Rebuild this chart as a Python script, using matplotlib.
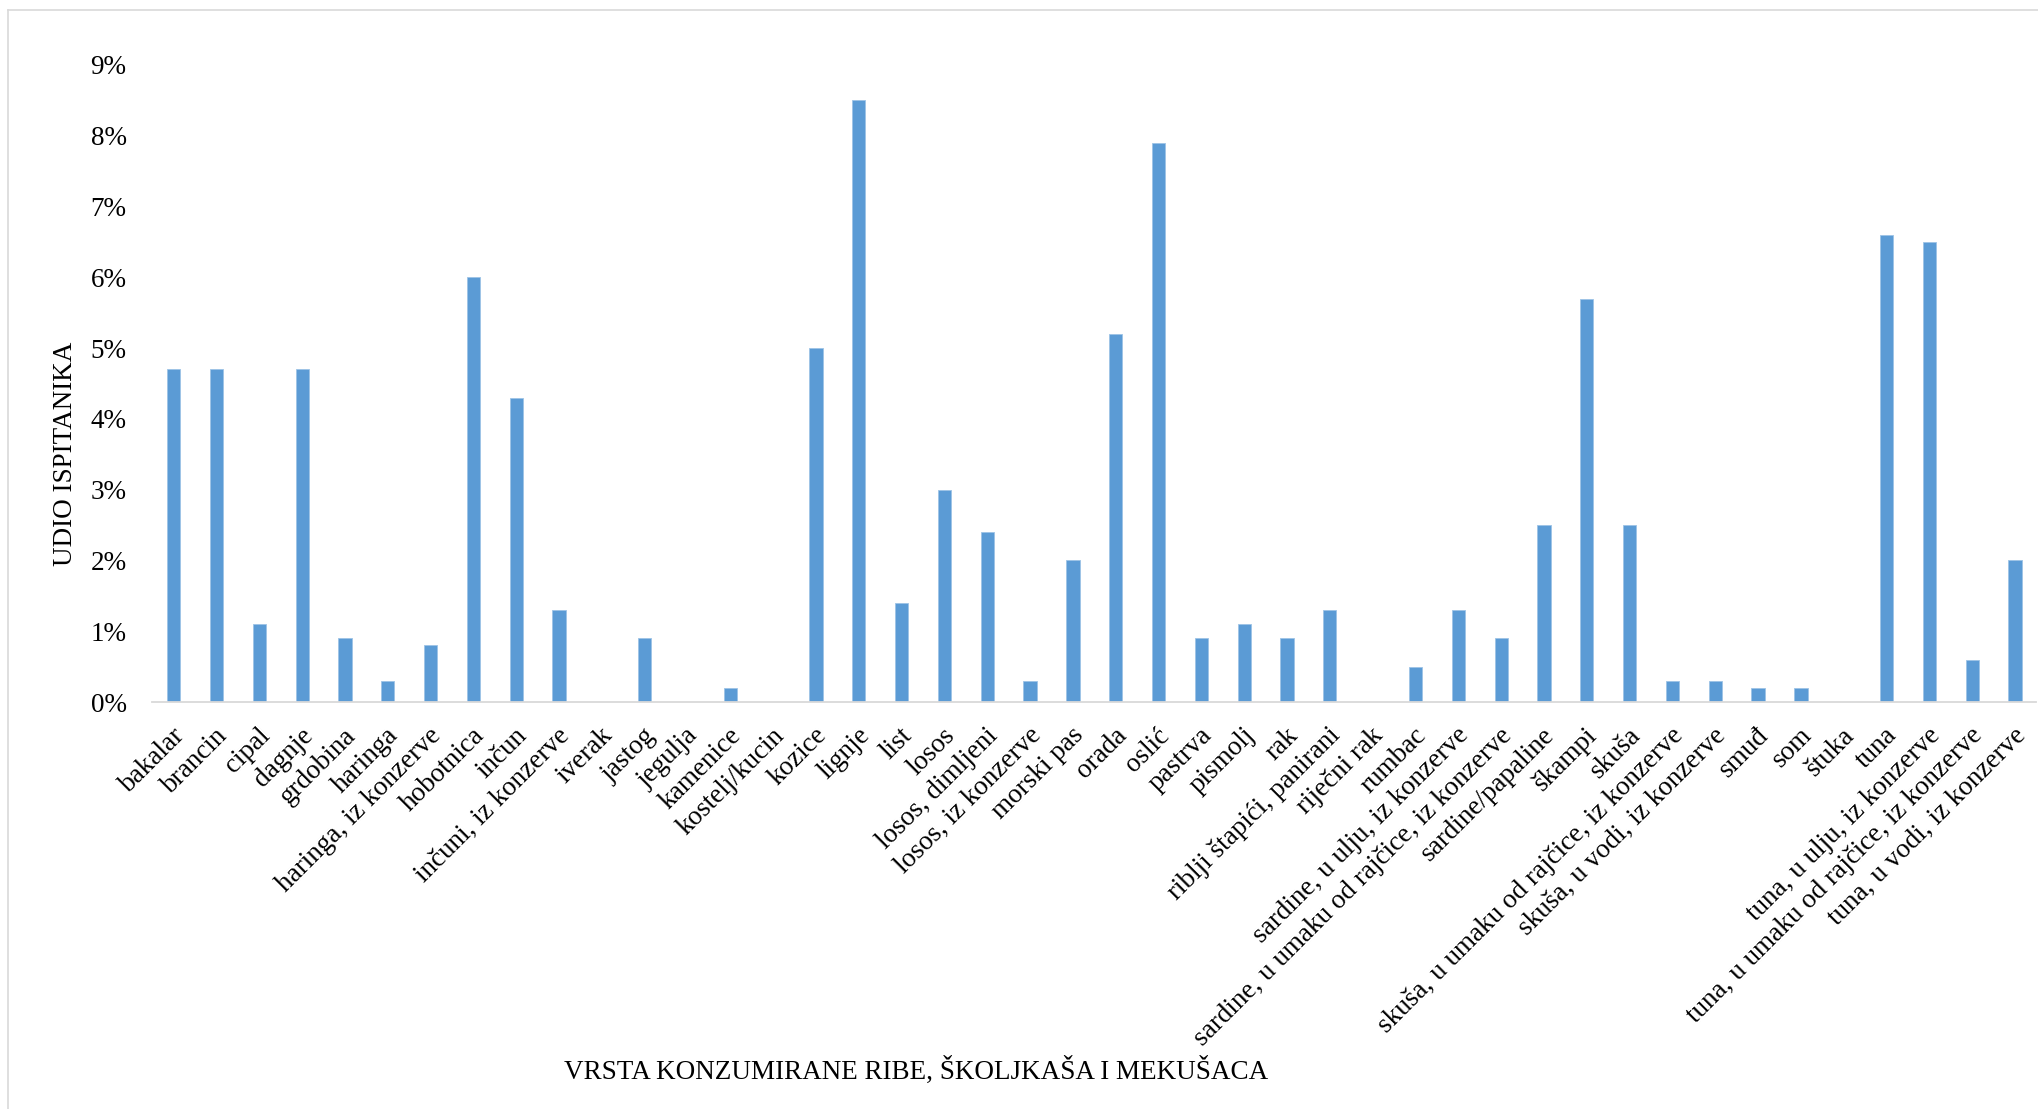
import matplotlib
matplotlib.use("Agg")
import matplotlib.pyplot as plt
from matplotlib.lines import Line2D
from matplotlib.transforms import ScaledTranslation

categories = [
    "bakalar", "brancin", "cipal", "dagnje", "grdobina", "haringa",
    "haringa, iz konzerve", "hobotnica", "inčun", "inčuni, iz konzerve",
    "iverak", "jastog", "jegulja", "kamenice", "kostelj/kucin", "kozice",
    "lignje", "list", "losos", "losos, dimljeni", "losos, iz konzerve",
    "morski pas", "orada", "oslić", "pastrva", "pismolj", "rak",
    "riblji štapići, panirani", "riječni rak", "rumbac",
    "sardine, u ulju, iz konzerve", "sardine, u umaku od rajčice, iz konzerve",
    "sardine/papaline", "škampi", "skuša",
    "skuša, u umaku od rajčice, iz konzerve", "skuša, u vodi, iz konzerve",
    "smuđ", "som", "štuka", "tuna", "tuna, u ulju, iz konzerve",
    "tuna, u umaku od rajčice, iz konzerve", "tuna, u vodi, iz konzerve",
]
values = [
    4.7, 4.7, 1.1, 4.7, 0.9, 0.3,
    0.8, 6.0, 4.3, 1.3,
    0.0, 0.9, 0.0, 0.2, 0.0, 5.0,
    8.5, 1.4, 3.0, 2.4, 0.3,
    2.0, 5.2, 7.9, 0.9, 1.1, 0.9,
    1.3, 0.0, 0.5,
    1.3, 0.9,
    2.5, 5.7, 2.5,
    0.3, 0.3,
    0.2, 0.2, 0.0, 6.6, 6.5,
    0.6, 2.0,
]
yticks = [0, 1, 2, 3, 4, 5, 6, 7, 8, 9]
ytick_labels = [f"{v}%" for v in yticks]
x_title = "VRSTA KONZUMIRANE RIBE, ŠKOLJKAŠA I MEKUŠACA"
y_title = "UDIO ISPITANIKA"

plt.rcParams["font.family"] = ["Liberation Serif", "DejaVu Serif"]

W, H = 2038, 1109
fig = plt.figure(figsize=(W / 100, H / 100), dpi=100)

# outer chart border (light gray, top and left visible)
fig.add_artist(Line2D([8 / W, 8 / W], [0, 1 - 10 / H], transform=fig.transFigure,
                      color="#D9D9D9", lw=1.2))
fig.add_artist(Line2D([8 / W, 1], [1 - 10 / H, 1 - 10 / H], transform=fig.transFigure,
                      color="#D9D9D9", lw=1.2))

left, right = 152.3 / W, 2036.4 / W
bottom, top = 1 - 702 / H, 1 - 65 / H
ax = fig.add_axes([left, bottom, right - left, top - bottom])

x = list(range(len(categories)))
ax.bar(x, values, width=0.31, color="#5B9BD5", edgecolor="#9DC3E6", linewidth=0.6, zorder=2)

ax.set_xlim(-0.5, len(categories) - 0.5)
ax.set_ylim(0, 9)
ax.set_yticks(yticks)
ax.set_yticklabels(ytick_labels, fontsize=19.5)
ax.tick_params(axis="y", length=0, pad=18.5)

for s in ("top", "right", "left"):
    ax.spines[s].set_visible(False)
ax.spines["bottom"].set_color("#D9D9D9")
ax.spines["bottom"].set_linewidth(1.3)

ax.set_xticks(x)
ax.set_xticklabels(categories, fontsize=19.5, rotation=45, ha="right",
                   va="center", rotation_mode="anchor")
ax.tick_params(axis="x", length=0, pad=21.5)
offset = ScaledTranslation(0.07, 0, fig.dpi_scale_trans)
for lab in ax.get_xticklabels():
    lab.set_transform(lab.get_transform() + offset)

fig.text(66 / W, 1 - 454 / H, y_title, rotation=90, ha="center", va="center", fontsize=19.5)
fig.text(916 / W, 1 - 1071 / H, x_title, ha="center", va="center", fontsize=19.5)

fig.savefig("out.png", dpi=100, facecolor="white")
